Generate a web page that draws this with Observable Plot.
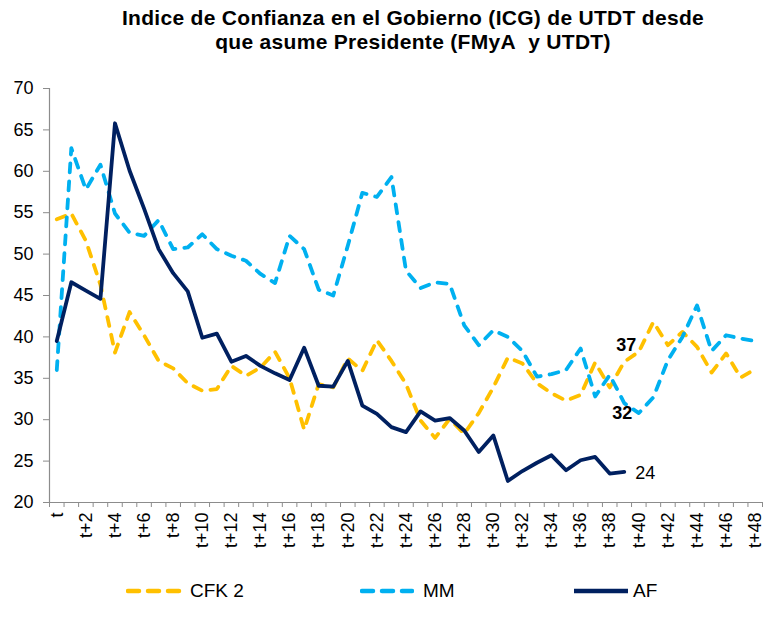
<!DOCTYPE html>
<html>
<head>
<meta charset="utf-8">
<script src="https://cdn.jsdelivr.net/npm/d3@7"></script>
<script src="https://cdn.jsdelivr.net/npm/@observablehq/plot@0.6"></script>
<style>
  html, body { margin: 0; padding: 0; background: #fff; }
  body { width: 768px; height: 634px; position: relative; overflow: hidden; font-family: "Liberation Sans", Arial, sans-serif; }
  #title { position: absolute; left: 0; top: 6px; width: 768px; padding-left: 58px; box-sizing: border-box; text-align: center; font-weight: bold; font-size: 21px; line-height: 24px; letter-spacing: 0.3px; color: #000; }
  #chart { position: absolute; left: 0; top: 76px; }
  #legend { position: absolute; left: 0; top: 576px; width: 768px; height: 30px; }
  .item { position: absolute; top: 0; height: 30px; display: flex; align-items: center; font-size: 19px; color: #000; }
  .item svg { display: block; }
</style>
</head>
<body>
<div id="title">Indice de Confianza en el Gobierno (ICG) de UTDT desde<br>que asume Presidente (FMyA&nbsp; y UTDT)</div>
<div id="chart"></div>
<div id="legend"></div>
<script>
const categories = ["t","t+1","t+2","t+3","t+4","t+5","t+6","t+7","t+8","t+9","t+10","t+11","t+12","t+13","t+14","t+15","t+16","t+17","t+18","t+19","t+20","t+21","t+22","t+23","t+24","t+25","t+26","t+27","t+28","t+29","t+30","t+31","t+32","t+33","t+34","t+35","t+36","t+37","t+38","t+39","t+40","t+41","t+42","t+43","t+44","t+45","t+46","t+47","t+48"];

const cfk2 = [54.2,54.9,51.6,46.3,38.1,43.0,40.2,37.1,36.2,34.4,33.5,33.7,36.5,35.3,36.3,38.2,35.0,28.8,34.3,33.9,37.4,35.9,39.6,37.1,34.3,29.9,27.8,30.1,28.3,30.8,33.9,37.5,36.8,34.4,33.2,32.3,33.0,36.9,33.9,37.0,38.2,41.8,39.0,40.6,38.8,35.7,38.0,35.1,36.1];

const mm = [36.0,62.8,57.8,60.8,54.9,52.6,52.2,54.1,50.6,50.8,52.4,50.6,49.8,49.2,47.6,46.5,52.2,50.6,45.7,45.0,51.0,57.4,56.9,59.3,48.0,45.9,46.6,46.4,41.4,39.0,40.8,40.0,38.3,35.2,35.5,36.0,38.6,32.8,35.4,32.0,30.8,32.7,37.2,40.0,43.8,38.3,40.2,39.8,39.5];

const af = [39.5,46.6,45.6,44.6,65.8,60.1,55.5,50.6,47.7,45.5,39.9,40.4,37.0,37.7,36.5,35.6,34.8,38.7,34.1,34.0,37.1,31.7,30.7,29.1,28.5,31.0,29.9,30.2,28.7,26.1,28.1,22.6,23.8,24.8,25.7,23.9,25.1,25.5,23.5,23.7];

const seriesNames = ["CFK 2", "MM", "AF"];
const seriesColors = ["#FFC000", "#00B0F0", "#002060"];
const yTicks = [20,25,30,35,40,45,50,55,60,65,70];
const xLabelIndex = [0,2,4,6,8,10,12,14,16,18,20,22,24,26,28,30,32,34,36,38,40,42,44,46,48];
const labelIndex = 39;

const allValues = [cfk2, mm, af];
const rows = allValues.map((vals, s) => vals.map((v, i) => ({series: seriesNames[s], i, v})));
const endLabels = [rows[0][labelIndex], rows[1][labelIndex], rows[2][labelIndex]];

const axisGrey = "#8c8c8c";
const dash = "9,9";

const chart = Plot.plot({
  width: 768,
  height: 484,
  marginTop: 12,
  marginBottom: 58,
  marginLeft: 49,
  marginRight: 6,
  style: {fontFamily: "'Liberation Sans', Arial, sans-serif", background: "white", color: "black", overflow: "visible"},
  x: {domain: [0, categories.length], axis: null},
  y: {domain: [20, 70], axis: null},
  marks: [
    Plot.axisY(yTicks, {anchor: "left", label: null, tickSize: 6, tickPadding: 10, fontSize: 18, stroke: axisGrey, fill: "black", tickFormat: d => String(d)}),
    Plot.axisX(d3.range(0, categories.length + 1), {anchor: "bottom", label: null, tickSize: 5, tickFormat: () => "", stroke: axisGrey}),
    Plot.axisX(xLabelIndex.map(i => i + 0.5), {anchor: "bottom", label: null, tickSize: 0, tickPadding: 10, tickRotate: -90, fontSize: 18, fill: "black", tickFormat: d => categories[Math.round(d - 0.5)]}),
    Plot.ruleX([0], {stroke: axisGrey, strokeWidth: 1.2}),
    Plot.ruleY([20], {stroke: axisGrey, strokeWidth: 1.2}),
    Plot.line(rows[0], {x: d => d.i + 0.5, y: "v", stroke: seriesColors[0], strokeWidth: 3.8, strokeDasharray: dash, strokeLinecap: "round", strokeLinejoin: "round"}),
    Plot.line(rows[1], {x: d => d.i + 0.5, y: "v", stroke: seriesColors[1], strokeWidth: 3.8, strokeDasharray: dash, strokeLinecap: "round", strokeLinejoin: "round"}),
    Plot.line(rows[2], {x: d => d.i + 0.5, y: "v", stroke: seriesColors[2], strokeWidth: 3.8, strokeLinejoin: "round"}),
    Plot.text([endLabels[0]], {x: d => d.i + 0.5, y: "v", text: d => String(Math.round(d.v)), dx: 2, dy: -17, fontSize: 18, fontWeight: "bold", fill: "black", textAnchor: "middle"}),
    Plot.text([endLabels[1]], {x: d => d.i + 0.5, y: "v", text: d => String(Math.round(d.v)), dx: -2, dy: 10, fontSize: 18, fontWeight: "bold", fill: "black", textAnchor: "middle"}),
    Plot.text([endLabels[2]], {x: d => d.i + 0.5, y: "v", text: d => String(Math.round(d.v)), dx: 11, dy: 1, fontSize: 18, fill: "black", textAnchor: "start"})
  ]
});
document.getElementById("chart").appendChild(chart);

// legend
const legendPos = [{line: 126, w: 56, text: 190}, {line: 360, w: 54, text: 423}, {line: 572, w: 58, text: 633}];
const legend = document.getElementById("legend");
seriesNames.forEach((name, s) => {
  const p = legendPos[s];
  const sw = document.createElement("div");
  sw.className = "item";
  sw.style.left = p.line + "px";
  const dashed = s < 2;
  sw.innerHTML = `<svg width="${p.w}" height="10"><line x1="2" y1="5" x2="${p.w - 2}" y2="5" stroke="${seriesColors[s]}" stroke-width="4.5" ${dashed ? 'stroke-dasharray="11,9" stroke-linecap="round"' : ''}/></svg>`;
  legend.appendChild(sw);
  const t = document.createElement("div");
  t.className = "item";
  t.style.left = p.text + "px";
  t.textContent = name;
  legend.appendChild(t);
});
</script>
</body>
</html>
